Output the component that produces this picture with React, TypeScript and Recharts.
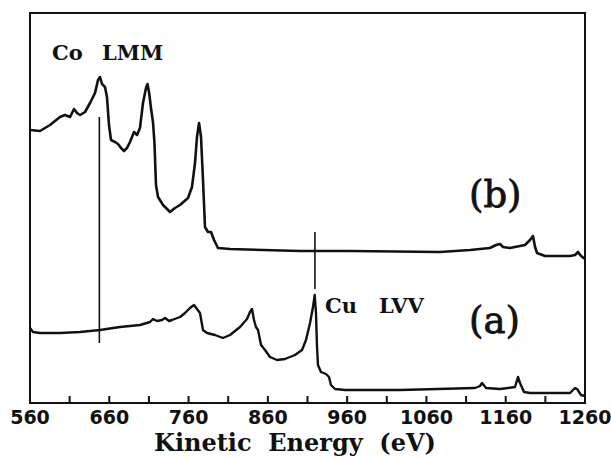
import React from "react";
import { LineChart, Line, XAxis, YAxis, ReferenceArea } from "recharts";

// kinetic energy (eV) and signal (arb. units)
const energyB = [560, 572.6, 585.2, 597.8, 604.1, 610.5, 615.5, 619.3, 623.1, 629.4, 635.7, 642, 645.8, 648.3, 650.8, 654.6, 657.1, 659.6, 662.2, 667.2, 671, 674.8, 678.6, 682.3, 686.1, 691.2, 695, 698.7, 702.5, 706.3, 708.2, 710.1, 712.6, 715.1, 717, 718.9, 721.5, 727.8, 736.6, 742.9, 749.2, 759.3, 764.3, 768.1, 770.6, 773.2, 775.7, 778.2, 780.7, 784.5, 788.3, 792.1, 797.1, 812.3, 900.6, 963.6, 1077, 1115, 1140, 1147.8, 1152.8, 1156.6, 1165.4, 1184.3, 1190.6, 1194.4, 1197, 1199.5, 1209.6, 1241.1, 1247.4, 1251.2, 1255, 1260];
const signalB = [273, 272, 278, 286, 288, 286, 294, 290, 288, 291, 300, 310, 323, 326, 319, 316, 306, 278, 263, 261, 259, 255, 252, 255, 261, 271, 268, 275, 300, 315, 319, 311, 295, 281, 260, 218, 206, 198, 191, 195, 198, 205, 216, 240, 266, 280, 266, 223, 176, 171, 171, 163, 155, 154, 152, 152, 151, 153, 155, 158, 159, 156, 155, 158, 163, 167, 156, 150, 147, 147, 148, 151, 147, 144];

const energyA = [560, 563.8, 572.6, 597.8, 623.1, 648.3, 673.5, 698.7, 711.4, 715.1, 720.2, 726.5, 730.3, 735.3, 739.1, 749.2, 755.5, 761.8, 766.9, 770.6, 774.4, 778.2, 783.3, 793.3, 803.4, 812.3, 824.9, 833.7, 837.5, 840, 842.5, 845, 847.6, 851.4, 856.4, 862.7, 871.5, 881.6, 894.2, 903.1, 908.1, 913.2, 916.9, 919.1, 920.7, 922, 923.2, 927, 933.3, 937.1, 939.6, 944.7, 957.3, 1026.7, 1121.3, 1127.6, 1130.1, 1135.2, 1152.8, 1171.7, 1175.5, 1178, 1183.1, 1190.6, 1241.1, 1247.4, 1250, 1255, 1260];
const signalA = [75, 71, 70, 70, 71, 73, 76, 78, 81, 84, 82, 83, 85, 82, 83, 86, 90, 95, 98, 94, 90, 73, 70, 68, 65, 68, 76, 84, 91, 94, 83, 76, 73, 58, 53, 46, 43, 44, 48, 53, 63, 80, 96, 108, 90, 56, 38, 31, 29, 26, 18, 14, 13, 13, 15, 17, 20, 15, 14, 16, 26, 20, 11, 10, 10, 15, 14, 8, 7];

// marker lines for Co LMM and Cu LVV
const coMarkE = [647.5, 647.5];
const coMarkV = [286, 60];
const cuMarkE = [919.4, 919.4];
const cuMarkV = [171, 114];

const majorTicks = [560, 660, 760, 860, 960, 1060, 1160, 1260];
const allTicks = [560, 610, 660, 710, 760, 810, 860, 910, 960, 1010, 1060, 1110, 1160, 1210, 1260];

const Y_MAX = 390;

const toRows = (es: number[], vs: number[]) => es.map((e, i) => ({ e, v: vs[i] }));

const dataB = toRows(energyB, signalB);
const dataA = toRows(energyA, signalA);
const coMark = toRows(coMarkE, coMarkV);
const cuMark = toRows(cuMarkE, cuMarkV);

const INK = "#111";

// bottom axis tick: inward mark, plus a label on the 100 eV ticks
const BottomTick = (props: any) => {
  const { x, y, payload } = props;
  const v = payload.value;
  const inner = v > 560 && v < 1260;
  return (
    <g>
      {inner && <line x1={x} x2={x} y1={y} y2={y - 7} stroke={INK} strokeWidth={2} />}
      {majorTicks.includes(v) && (
        <text x={x} y={y + 21} textAnchor="middle" fill={INK}
          style={{ fontFamily: "DejaVu Sans", fontWeight: 700, fontSize: 19 }}>
          {v}
        </text>
      )}
    </g>
  );
};

// top axis tick: inward mark only
const TopTick = (props: any) => {
  const { x, y, payload } = props;
  const v = payload.value;
  if (v <= 560 || v >= 1260) return <g />;
  return <line x1={x} x2={x} y1={y} y2={y + 7} stroke={INK} strokeWidth={2} />;
};

export default function App() {
  const dom: [number, number] = [560, 1260];
  return (
    <div style={{ position: "absolute", left: 0, top: 0, width: 611, height: 459, background: "#fff" }}>
      <LineChart width={611} height={459} margin={{ top: 13, right: 26, left: 30, bottom: 0 }}>
        <XAxis type="number" dataKey="e" domain={dom} allowDataOverflow ticks={allTicks} interval={0}
          height={56} tickLine={false} tickSize={0} tickMargin={0}
          axisLine={{ stroke: INK, strokeWidth: 2 }} tick={<BottomTick />} />
        <XAxis xAxisId="top" orientation="top" type="number" dataKey="e" domain={dom} allowDataOverflow
          ticks={allTicks} interval={0} height={0} tickLine={false} tickSize={0} tickMargin={0}
          axisLine={{ stroke: INK, strokeWidth: 2 }} tick={<TopTick />} />
        <YAxis type="number" domain={[0, Y_MAX]} allowDataOverflow width={0} hide />
        {/* plot frame */}
        <ReferenceArea x1={560} x2={1260} y1={0} y2={Y_MAX} fill="none" fillOpacity={0}
          stroke={INK} strokeWidth={2} ifOverflow="visible" />
        <Line data={dataB} dataKey="v" type="linear" stroke={INK} strokeWidth={2.6} dot={false}
          strokeLinejoin="round" isAnimationActive={false} />
        <Line data={dataA} dataKey="v" type="linear" stroke={INK} strokeWidth={2.4} dot={false}
          strokeLinejoin="round" isAnimationActive={false} />
        <Line data={coMark} dataKey="v" type="linear" stroke={INK} strokeWidth={1.6} dot={false}
          isAnimationActive={false} />
        <Line data={cuMark} dataKey="v" type="linear" stroke={INK} strokeWidth={1.6} dot={false}
          isAnimationActive={false} />
      </LineChart>
      <svg width={611} height={459} style={{ position: "absolute", left: 0, top: 0, pointerEvents: "none" }}>
        <g fill={INK} style={{ fontFamily: "DejaVu Serif", fontWeight: 700, fontSize: 21 }}>
          <text x={52} y={60}>Co</text>
          <text x={102} y={60}>LMM</text>
          <text x={325} y={313}>Cu</text>
          <text x={379} y={313}>LVV</text>
        </g>
        <g fill={INK} stroke={INK} strokeWidth={0.8} style={{ fontFamily: "DejaVu Serif", fontSize: 37 }}>
          <text x={469} y={207}>(b)</text>
          <text x={469} y={333}>(a)</text>
        </g>
        <text x={295} y={451} textAnchor="middle" fill={INK} xmlSpace="preserve"
          style={{ fontFamily: "DejaVu Serif", fontWeight: 700, fontSize: 24, whiteSpace: "pre" }}>
          {"Kinetic  Energy  (eV)"}
        </text>
      </svg>
    </div>
  );
}
